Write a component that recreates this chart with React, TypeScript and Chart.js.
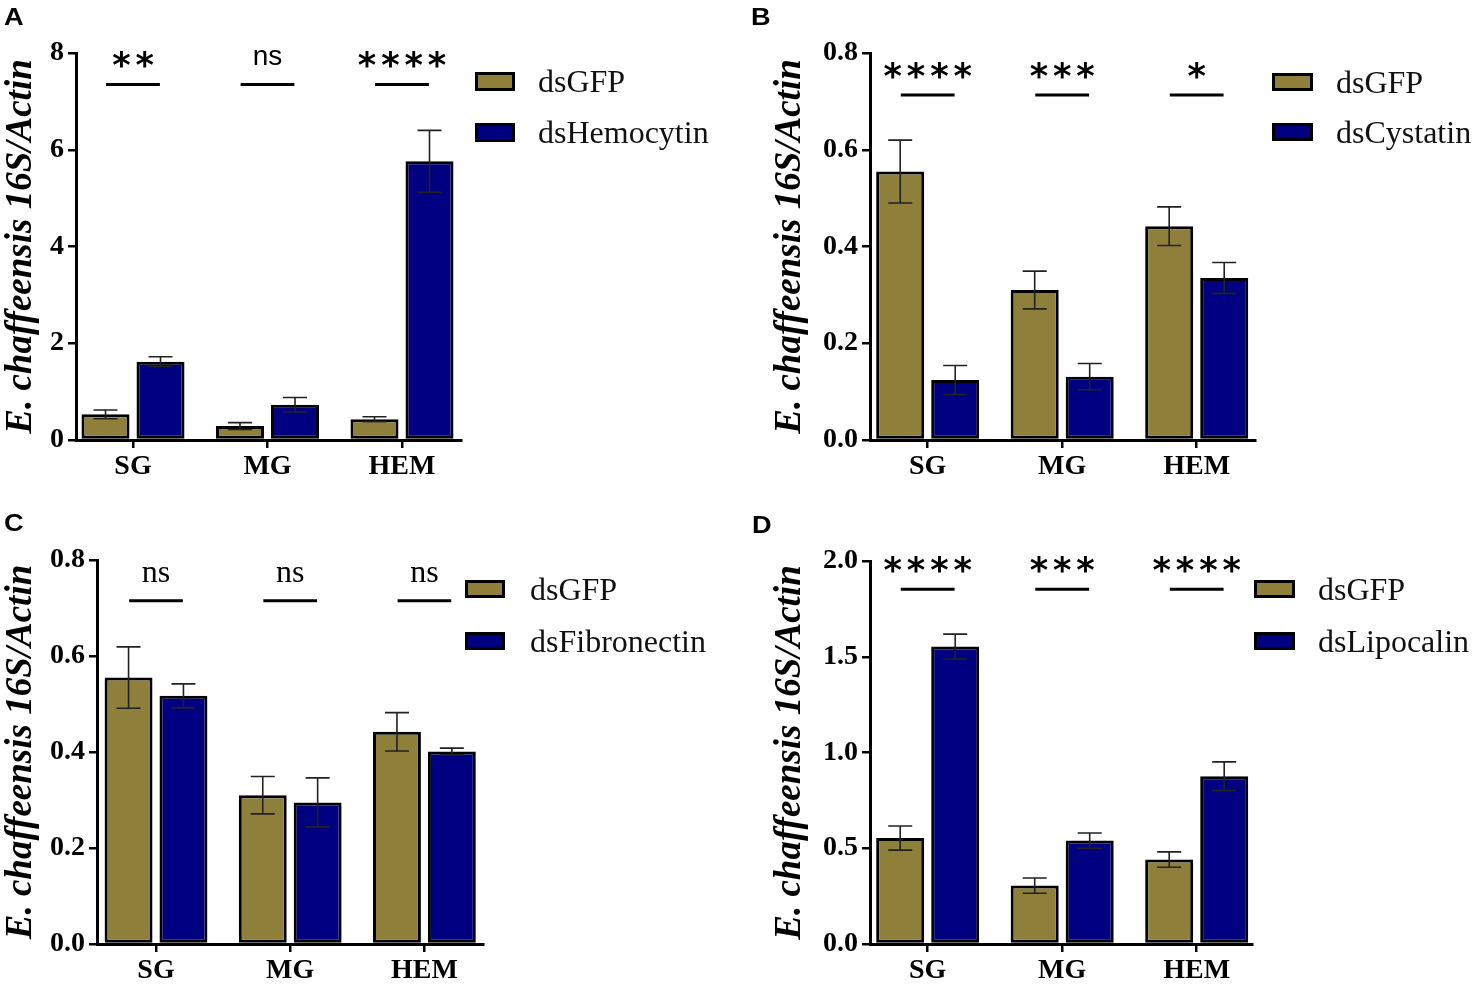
import React, { useEffect, useRef } from 'react';
import { Chart, registerables } from 'chart.js';

Chart.register(...registerables);

// ---------- data ----------
const CATEGORIES = ['SG', 'MG', 'HEM'];
const CONTROL_NAME = 'dsGFP';
const Y_TITLE = 'E. chaffeensis 16S/Actin';

// Panel A
const A_TREAT_NAME = 'dsHemocytin';
const A_CONTROL = [0.53, 0.29, 0.43];
const A_CONTROL_ERR = [0.09, 0.07, 0.05];
const A_TREAT = [1.62, 0.73, 5.76];
const A_TREAT_ERR = [0.1, 0.15, 0.64];
const A_SIG = ['**', 'ns', '****'];
const A_SIG_Y = 7.35;
const A_Y_TICKS = [0, 2, 4, 6, 8];

// Panel B
const B_TREAT_NAME = 'dsCystatin';
const B_CONTROL = [0.555, 0.31, 0.442];
const B_CONTROL_ERR = [0.065, 0.039, 0.04];
const B_TREAT = [0.124, 0.131, 0.335];
const B_TREAT_ERR = [0.03, 0.027, 0.032];
const B_SIG = ['****', '***', '*'];
const B_SIG_Y = 0.713;
const B_Y_TICKS = [0, 0.2, 0.4, 0.6, 0.8];

// Panel C
const C_TREAT_NAME = 'dsFibronectin';
const C_CONTROL = [0.555, 0.31, 0.442];
const C_CONTROL_ERR = [0.064, 0.039, 0.04];
const C_TREAT = [0.517, 0.295, 0.401];
const C_TREAT_ERR = [0.025, 0.051, 0.007];
const C_SIG = ['ns', 'ns', 'ns'];
const C_SIG_Y = 0.715;
const C_Y_TICKS = [0, 0.2, 0.4, 0.6, 0.8];

// Panel D
const D_TREAT_NAME = 'dsLipocalin';
const D_CONTROL = [0.553, 0.305, 0.441];
const D_CONTROL_ERR = [0.063, 0.04, 0.04];
const D_TREAT = [1.553, 0.54, 0.876];
const D_TREAT_ERR = [0.065, 0.04, 0.075];
const D_SIG = ['****', '***', '****'];
const D_SIG_Y = 1.853;
const D_Y_TICKS = [0, 0.5, 1.0, 1.5, 2.0];

// ---------- styles / layout ----------
const CONTROL_COLOR = '#8E7F3B';
const TREAT_COLOR = '#000080';
const W = 738;
const H = 493;

type Layout = {
  left: number; top: number; padL: number;
  chartL: number; chartR: number; chartT: number; chartB: number;
  c0: number; sp: number;
  legend: { bx: number; by: number[]; bw: number; bh: number; tx: number };
  letter: { x: number; capTop: number };
};

type PanelDef = {
  letter: string;
  treatName: string;
  control: number[]; controlErr: number[];
  treat: number[]; treatErr: number[];
  sig: string[]; sigY: number;
  yTicks: number[]; decimals: number;
  nsFont: string;
  lay: Layout;
};

const PANELS: PanelDef[] = [
  {
    letter: 'A', treatName: A_TREAT_NAME, control: A_CONTROL, controlErr: A_CONTROL_ERR,
    treat: A_TREAT, treatErr: A_TREAT_ERR, sig: A_SIG, sigY: A_SIG_Y, yTicks: A_Y_TICKS, decimals: 0,
    nsFont: '28px "Liberation Sans"',
    lay: {
      left: 0, top: 0, padL: 2.5, chartL: 76, chartR: 461, chartT: 53, chartB: 440, c0: 133, sp: 134.5,
      legend: { bx: 475, by: [72, 123], bw: 40, bh: 19, tx: 538 }, letter: { x: 4, capTop: 8 },
    },
  },
  {
    letter: 'B', treatName: B_TREAT_NAME, control: B_CONTROL, controlErr: B_CONTROL_ERR,
    treat: B_TREAT, treatErr: B_TREAT_ERR, sig: B_SIG, sigY: B_SIG_Y, yTicks: B_Y_TICKS, decimals: 1,
    nsFont: '28px "Liberation Sans"',
    lay: {
      left: 738, top: 0, padL: 34, chartL: 132, chartR: 517, chartT: 53, chartB: 440, c0: 189.7, sp: 134.5,
      legend: { bx: 534, by: [73, 123], bw: 41, bh: 18, tx: 598 }, letter: { x: 13, capTop: 8 },
    },
  },
  {
    letter: 'C', treatName: C_TREAT_NAME, control: C_CONTROL, controlErr: C_CONTROL_ERR,
    treat: C_TREAT, treatErr: C_TREAT_ERR, sig: C_SIG, sigY: C_SIG_Y, yTicks: C_Y_TICKS, decimals: 1,
    nsFont: '32px "Liberation Serif"',
    lay: {
      left: 0, top: 493, padL: 2.5, chartL: 97, chartR: 483, chartT: 67, chartB: 451, c0: 156, sp: 134.2,
      legend: { bx: 465, by: [87, 139], bw: 40, bh: 18, tx: 530 }, letter: { x: 4, capTop: 21 },
    },
  },
  {
    letter: 'D', treatName: D_TREAT_NAME, control: D_CONTROL, controlErr: D_CONTROL_ERR,
    treat: D_TREAT, treatErr: D_TREAT_ERR, sig: D_SIG, sigY: D_SIG_Y, yTicks: D_Y_TICKS, decimals: 1,
    nsFont: '28px "Liberation Sans"',
    lay: {
      left: 738, top: 493, padL: 34, chartL: 132, chartR: 514, chartT: 68, chartB: 451, c0: 189.7, sp: 134.5,
      legend: { bx: 516, by: [87, 139], bw: 41, bh: 18, tx: 580 }, letter: { x: 14, capTop: 23 },
    },
  },
];

function drawStars(ctx: CanvasRenderingContext2D, n: number, cx: number, cy: number) {
  ctx.font = 'bold 40px "DejaVu Sans"';
  const m = ctx.measureText('*');
  const gw = m.actualBoundingBoxLeft + m.actualBoundingBoxRight;
  const size = (40 * 18.5) / (gw || 17);
  ctx.font = `bold ${size}px "DejaVu Sans"`;
  const m2 = ctx.measureText('*');
  const asc = m2.actualBoundingBoxAscent;
  const desc = m2.actualBoundingBoxDescent;
  const baseY = cy + (asc - desc) / 2;
  ctx.textAlign = 'center';
  ctx.textBaseline = 'alphabetic';
  for (let k = 0; k < n; k++) {
    ctx.fillText('*', cx + (k - (n - 1) / 2) * 23.3, baseY);
  }
}

function makePlugin(def: PanelDef) {
  return {
    id: 'panelExtras' + def.letter,
    afterDatasetsDraw(chart: any) {
      const ctx: CanvasRenderingContext2D = chart.ctx;
      const xs = chart.scales.x;
      const ys = chart.scales.y;
      ctx.save();
      // error bars
      chart.data.datasets.forEach((ds: any, di: number) => {
        const meta = chart.getDatasetMeta(di);
        meta.data.forEach((bar: any, i: number) => {
          const v = ds.data[i].y;
          const e = ds.errors[i];
          const px = bar.x;
          const t = ys.getPixelForValue(v + e);
          const b = ys.getPixelForValue(v - e);
          ctx.strokeStyle = '#222';
          ctx.lineWidth = 1.6;
          ctx.beginPath();
          ctx.moveTo(px, t); ctx.lineTo(px, b);
          ctx.moveTo(px - 12, t); ctx.lineTo(px + 12, t);
          ctx.moveTo(px - 12, b); ctx.lineTo(px + 12, b);
          ctx.stroke();
        });
      });
      // significance
      const ly = ys.getPixelForValue(def.sigY);
      def.sig.forEach((s, i) => {
        const cx = xs.getPixelForValue(i);
        ctx.strokeStyle = '#000';
        ctx.lineWidth = 3;
        ctx.beginPath();
        ctx.moveTo(xs.getPixelForValue(i - 0.2), ly);
        ctx.lineTo(xs.getPixelForValue(i + 0.2), ly);
        ctx.stroke();
        ctx.fillStyle = '#000';
        if (s === 'ns') {
          ctx.font = def.nsFont;
          ctx.textAlign = 'center';
          ctx.textBaseline = 'alphabetic';
          ctx.fillText('ns', cx, ly - 19);
        } else {
          drawStars(ctx, s.length, cx, ly - 25);
        }
      });
      // legend
      const lg = def.lay.legend;
      chart.data.datasets.forEach((ds: any, di: number) => {
        const by = lg.by[di];
        ctx.fillStyle = ds.backgroundColor;
        ctx.fillRect(lg.bx, by, lg.bw, lg.bh);
        ctx.strokeStyle = '#000';
        ctx.lineWidth = 3;
        ctx.strokeRect(lg.bx + 1.5, by + 1.5, lg.bw - 3, lg.bh - 3);
        ctx.fillStyle = '#111';
        ctx.font = '32px "Liberation Serif"';
        ctx.textAlign = 'left';
        ctx.textBaseline = 'alphabetic';
        ctx.fillText(ds.label, lg.tx, by + lg.bh / 2 + 10.6);
      });
      // panel letter
      ctx.fillStyle = '#000';
      ctx.font = 'bold 23px "Liberation Sans"';
      ctx.textAlign = 'left';
      ctx.textBaseline = 'alphabetic';
      ctx.translate(def.lay.letter.x, def.lay.letter.capTop + 16.5);
      ctx.scale(1.18, 1);
      ctx.fillText(def.letter, 0, 0);
      ctx.restore();
    },
  };
}

function buildConfig(def: PanelDef): any {
  const L = def.lay;
  const tickFont = { family: 'Liberation Serif', size: 28, weight: 'bold' as const };
  const yMax = def.yTicks[def.yTicks.length - 1];
  return {
    type: 'bar',
    data: {
      datasets: [
        {
          label: CONTROL_NAME,
          data: def.control.map((v, i) => ({ x: i, y: v })),
          errors: def.controlErr,
          backgroundColor: CONTROL_COLOR,
          borderColor: '#000',
          borderWidth: 3,
          borderSkipped: false,
        },
        {
          label: def.treatName,
          data: def.treat.map((v, i) => ({ x: i, y: v })),
          errors: def.treatErr,
          backgroundColor: TREAT_COLOR,
          borderColor: '#000',
          borderWidth: 3,
          borderSkipped: false,
        },
      ],
    },
    options: {
      animation: false,
      responsive: false,
      events: [],
      categoryPercentage: 0.818,
      barPercentage: 0.873,
      layout: {
        padding: { left: L.padL, right: W - L.chartR, top: L.chartT, bottom: H - L.chartB - 40 },
      },
      plugins: { legend: { display: false }, tooltip: { enabled: false } },
      scales: {
        x: {
          type: 'linear',
          offset: false,
          bounds: 'data',
          min: -(L.c0 - L.chartL) / L.sp,
          max: (L.chartR - L.c0) / L.sp,
          afterBuildTicks: (s: any) => {
            s.ticks = CATEGORIES.map((_, i) => ({ value: i }));
          },
          afterFit: (s: any) => {
            s.height = 40;
          },
          ticks: {
            callback: (v: any) => CATEGORIES[Math.round(v)] ?? '',
            font: tickFont,
            color: '#000',
            padding: 2,
            maxRotation: 0,
            autoSkip: false,
          },
          grid: { offset: false, drawOnChartArea: false, drawTicks: true, tickLength: 8, lineWidth: 2.5, color: '#000' },
          border: { display: true, width: 3, color: '#000' },
        },
        y: {
          min: 0,
          max: yMax,
          afterBuildTicks: (s: any) => {
            s.ticks = def.yTicks.map((v) => ({ value: v }));
          },
          afterFit: (s: any) => {
            s.width = L.chartL - L.padL;
          },
          ticks: {
            callback: (v: any) => Number(v).toFixed(def.decimals),
            font: tickFont,
            color: '#000',
            padding: 4,
          },
          grid: { drawOnChartArea: false, drawTicks: true, tickLength: 8, lineWidth: 2.5, color: '#000' },
          border: { display: true, width: 3, color: '#000' },
          title: {
            display: true,
            text: Y_TITLE,
            color: '#000',
            padding: 0,
            font: { family: 'Liberation Serif', size: 37, weight: 'bold', style: 'italic', lineHeight: 1 },
          },
        },
      },
    },
    plugins: [makePlugin(def)],
  };
}

function Panel({ def }: { def: PanelDef }) {
  const ref = useRef<HTMLCanvasElement>(null);
  useEffect(() => {
    if (!ref.current) return;
    const chart = new Chart(ref.current, buildConfig(def));
    return () => chart.destroy();
  }, [def]);
  return (
    <canvas
      ref={ref}
      width={W}
      height={H}
      style={{ position: 'absolute', left: def.lay.left, top: def.lay.top, width: W, height: H }}
    />
  );
}

export default function App() {
  return (
    <div style={{ position: 'absolute', left: 0, top: 0, width: 1476, height: 986, background: '#fff', overflow: 'hidden' }}>
      {PANELS.map((p) => (
        <Panel key={p.letter} def={p} />
      ))}
    </div>
  );
}
